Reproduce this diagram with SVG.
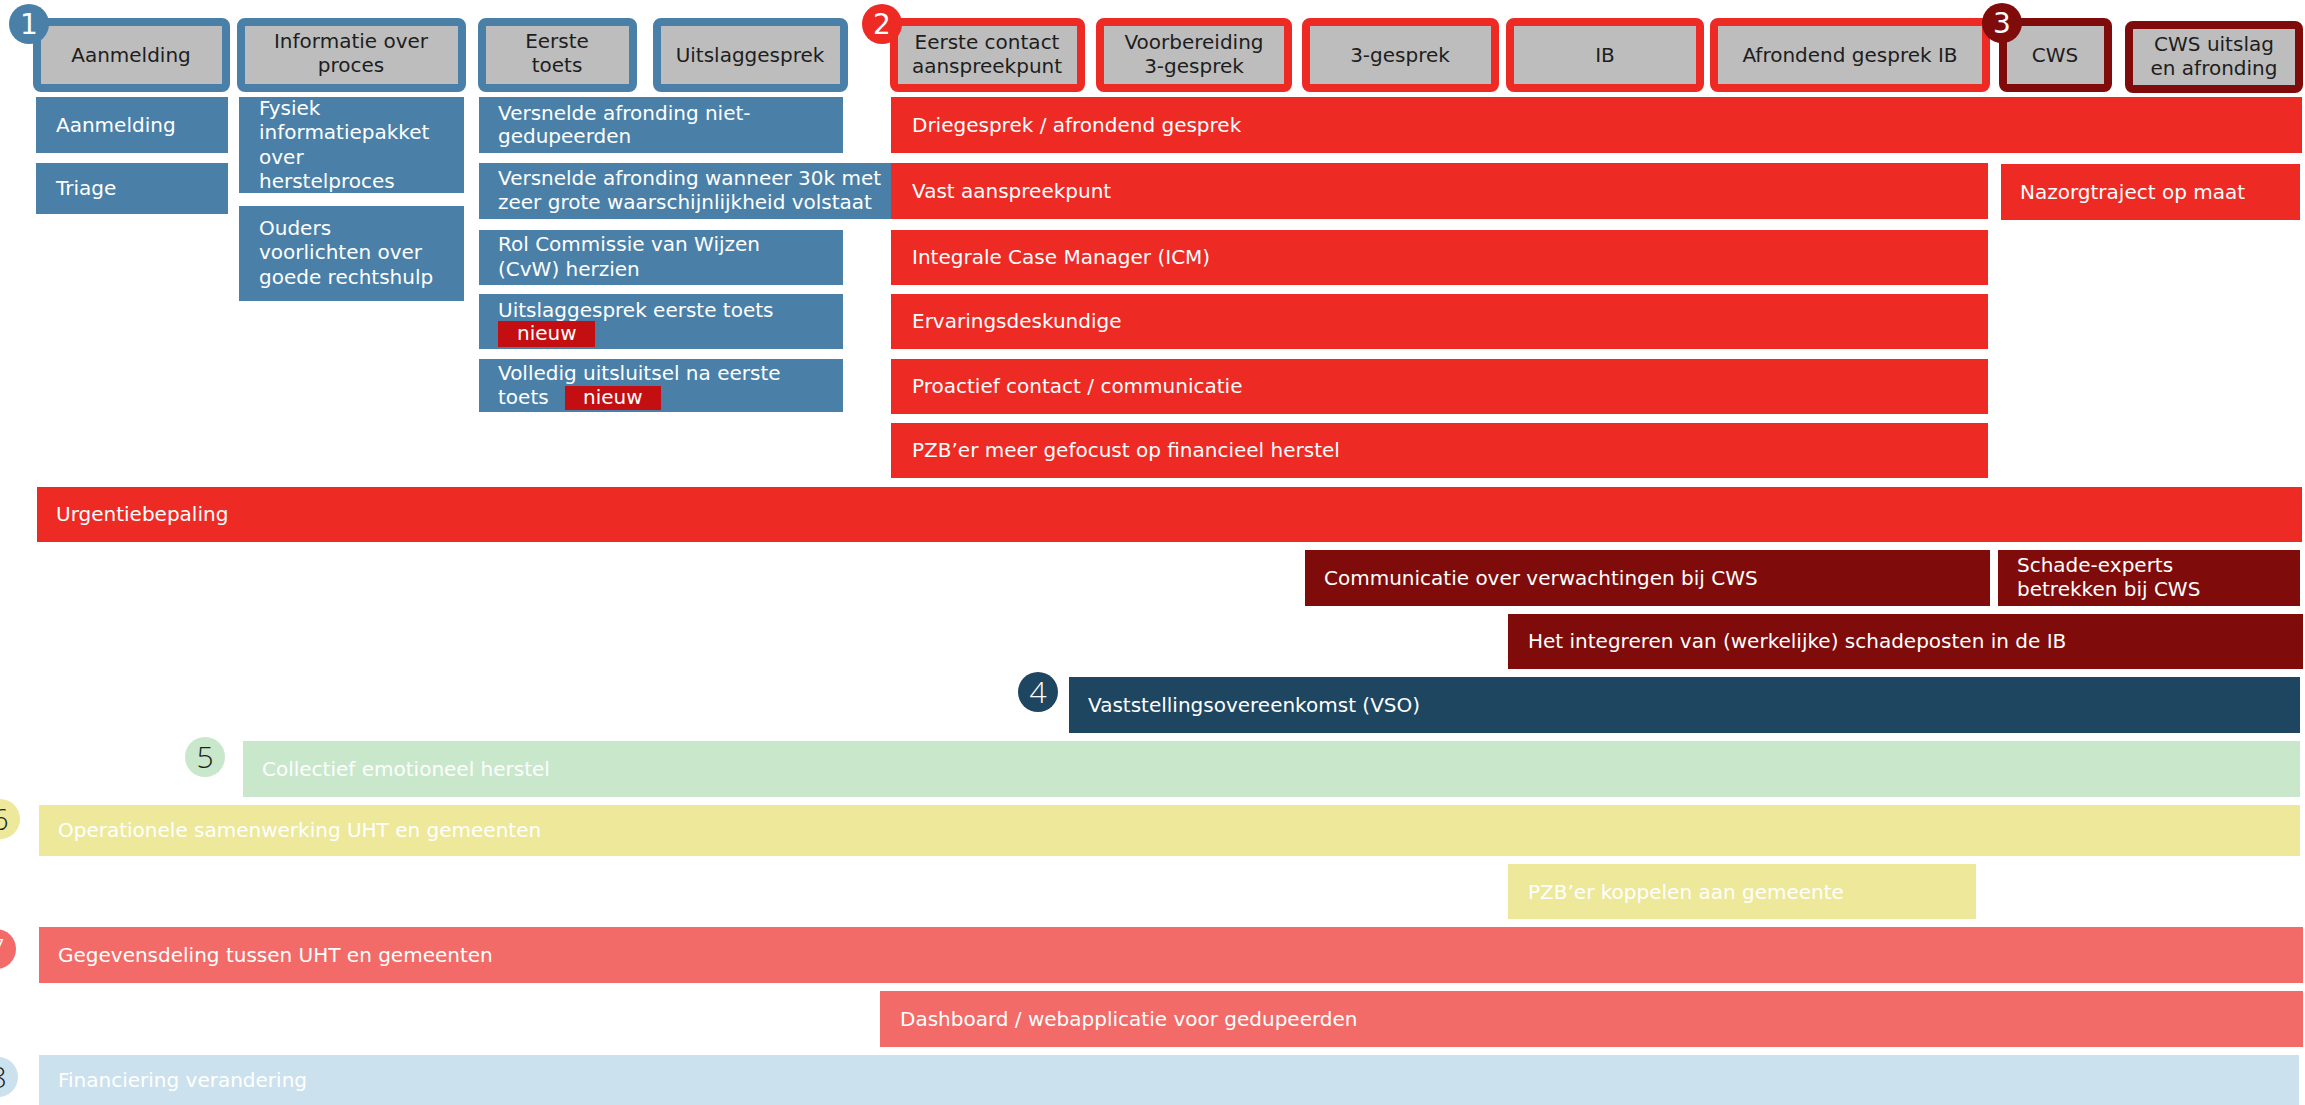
<svg xmlns="http://www.w3.org/2000/svg" width="2305" height="1105" viewBox="0 0 2305 1105">
<style>
text{font-family:"DejaVu Sans",Verdana,sans-serif;font-size:20px;}
.w{fill:#ffffff;}
.d{fill:#1e1e1e;}
.c{text-anchor:middle;}
.hb{fill:#bdbdbd;stroke:#4a80a8;stroke-width:8;}
.hr{fill:#bdbdbd;stroke:#ee2a24;stroke-width:8;}
.hd{fill:#bdbdbd;stroke:#7f0c0a;stroke-width:8;}
.blue{fill:#4a80a8;}
.red{fill:#ee2a24;}
.dred{fill:#7f0c0a;}
.navy{fill:#1f4660;}
.green{fill:#c9e7cb;}
.yel{fill:#eee89b;}
.sal{fill:#f36b68;}
.lblue{fill:#cce1ee;}
.badge{fill:#c40f12;}
.num{font-size:28px;text-anchor:middle;}
.num2{font-family:"Open Sans","DejaVu Sans",sans-serif;font-weight:300;font-size:30px;text-anchor:middle;}
</style>
<rect x="0" y="0" width="2305" height="1105" fill="#ffffff"/>
<g id="connectors"/>

<!-- Header phase 1 -->
<g id="h-aanmelding"><rect class="hb" x="37" y="22" width="189" height="66" rx="4"/><text class="d c" x="131" y="62">Aanmelding</text></g>
<g id="h-informatie"><rect class="hb" x="241" y="22" width="221" height="66" rx="4"/><text class="d c" x="351" y="48">Informatie over</text><text class="d c" x="351" y="72">proces</text></g>
<g id="h-eerstetoets"><rect class="hb" x="482" y="22" width="151" height="66" rx="4"/><text class="d c" x="557" y="48">Eerste</text><text class="d c" x="557" y="72">toets</text></g>
<g id="h-uitslaggesprek"><rect class="hb" x="657" y="22" width="187" height="66" rx="4"/><text class="d c" x="750" y="62">Uitslaggesprek</text></g>
<g id="badge-1"><circle cx="29" cy="24" r="20" fill="#4a80a8"/><text class="num w" x="29" y="34">1</text></g>

<!-- Header phase 2 -->
<g id="h-eerstecontact"><rect class="hr" x="894" y="22" width="187" height="66" rx="4"/><text class="d c" x="987" y="49">Eerste contact</text><text class="d c" x="987" y="73">aanspreekpunt</text></g>
<g id="h-voorbereiding"><rect class="hr" x="1100" y="22" width="188" height="66" rx="4"/><text class="d c" x="1194" y="49">Voorbereiding</text><text class="d c" x="1194" y="73">3-gesprek</text></g>
<g id="h-3gesprek"><rect class="hr" x="1306" y="22" width="189" height="66" rx="4"/><text class="d c" x="1400" y="62">3-gesprek</text></g>
<g id="h-ib"><rect class="hr" x="1510" y="22" width="190" height="66" rx="4"/><text class="d c" x="1605" y="62">IB</text></g>
<g id="h-afrondend"><rect class="hr" x="1714" y="22" width="272" height="66" rx="4"/><text class="d c" x="1850" y="62">Afrondend gesprek IB</text></g>
<g id="badge-2"><circle cx="882" cy="24" r="20" fill="#ee2a24"/><text class="num w" x="882" y="34">2</text></g>

<!-- Header phase 3 -->
<g id="h-cws"><rect class="hd" x="2003" y="22" width="105" height="66" rx="4"/><text class="d c" x="2055" y="62">CWS</text></g>
<g id="h-cwsuitslag"><rect class="hd" x="2129" y="25" width="170" height="64" rx="4"/><text class="d c" x="2214" y="51">CWS uitslag</text><text class="d c" x="2214" y="75">en afronding</text></g>
<g id="badge-3"><circle cx="2002" cy="23" r="20" fill="#7f0c0a"/><text class="num w" x="2002" y="33">3</text></g>

<!-- Blue body boxes -->
<g id="b-aanmelding"><rect class="blue" x="36" y="97" width="192" height="56"/><text class="w" x="56" y="132">Aanmelding</text></g>
<g id="b-triage"><rect class="blue" x="36" y="163" width="192" height="51"/><text class="w" x="56" y="195">Triage</text></g>
<g id="b-fysiek"><rect class="blue" x="239" y="97" width="225" height="96"/><text class="w" x="259" y="115">Fysiek</text><text class="w" x="259" y="139">informatiepakket</text><text class="w" x="259" y="164">over</text><text class="w" x="259" y="188">herstelproces</text></g>
<g id="b-ouders"><rect class="blue" x="239" y="206" width="225" height="95"/><text class="w" x="259" y="235">Ouders</text><text class="w" x="259" y="259">voorlichten over</text><text class="w" x="259" y="284">goede rechtshulp</text></g>
<g id="b-versnelde1"><rect class="blue" x="479" y="97" width="364" height="56"/><text class="w" x="498" y="120">Versnelde afronding niet-</text><text class="w" x="498" y="143">gedupeerden</text></g>
<g id="b-versnelde2"><rect class="blue" x="479" y="163" width="412" height="56"/><text class="w" x="498" y="185">Versnelde afronding wanneer 30k met</text><text class="w" x="498" y="209">zeer grote waarschijnlijkheid volstaat</text></g>
<g id="b-rol"><rect class="blue" x="479" y="230" width="364" height="55"/><text class="w" x="498" y="251">Rol Commissie van Wijzen</text><text class="w" x="498" y="276">(CvW) herzien</text></g>
<g id="b-uitslag"><rect class="blue" x="479" y="294" width="364" height="55"/><text class="w" x="498" y="317">Uitslaggesprek eerste toets</text><rect class="badge" x="498" y="321" width="97" height="26"/><text class="w" x="517" y="340">nieuw</text></g>
<g id="b-volledig"><rect class="blue" x="479" y="359" width="364" height="53"/><text class="w" x="498" y="380">Volledig uitsluitsel na eerste</text><text class="w" x="498" y="404">toets</text><rect class="badge" x="565" y="386" width="96" height="24"/><text class="w" x="583" y="404">nieuw</text></g>

<!-- Red body bars -->
<g id="r-driegesprek"><rect class="red" x="891" y="97" width="1411" height="56"/><text class="w" x="912" y="132">Driegesprek / afrondend gesprek</text></g>
<g id="r-vast"><rect class="red" x="891" y="163" width="1097" height="56"/><text class="w" x="912" y="198">Vast aanspreekpunt</text></g>
<g id="r-nazorg"><rect class="red" x="2001" y="164" width="299" height="56"/><text class="w" x="2020" y="199">Nazorgtraject op maat</text></g>
<g id="r-icm"><rect class="red" x="891" y="230" width="1097" height="55"/><text class="w" x="912" y="264">Integrale Case Manager (ICM)</text></g>
<g id="r-ervaring"><rect class="red" x="891" y="294" width="1097" height="55"/><text class="w" x="912" y="328">Ervaringsdeskundige</text></g>
<g id="r-proactief"><rect class="red" x="891" y="359" width="1097" height="55"/><text class="w" x="912" y="393">Proactief contact / communicatie</text></g>
<g id="r-pzb"><rect class="red" x="891" y="423" width="1097" height="55"/><text class="w" x="912" y="457">PZB’er meer gefocust op financieel herstel</text></g>
<g id="r-urgentie"><rect class="red" x="37" y="487" width="2265" height="55"/><text class="w" x="56" y="521">Urgentiebepaling</text></g>

<!-- Dark red bars -->
<g id="d-communicatie"><rect class="dred" x="1305" y="550" width="685" height="56"/><text class="w" x="1324" y="585">Communicatie over verwachtingen bij CWS</text></g>
<g id="d-schade"><rect class="dred" x="1998" y="550" width="302" height="56"/><text class="w" x="2017" y="572">Schade-experts</text><text class="w" x="2017" y="596">betrekken bij CWS</text></g>
<g id="d-integreren"><rect class="dred" x="1508" y="614" width="795" height="55"/><text class="w" x="1528" y="648">Het integreren van (werkelijke) schadeposten in de IB</text></g>

<!-- VSO -->
<g id="n-vso"><rect class="navy" x="1069" y="677" width="1231" height="56"/><text class="w" x="1088" y="712">Vaststellingsovereenkomst (VSO)</text></g>
<g id="badge-4"><circle cx="1038" cy="692" r="20" fill="#1f4660"/><text class="num2 w" x="1038" y="703">4</text></g>

<!-- Collectief -->
<g id="n-collectief"><rect class="green" x="243" y="741" width="2057" height="56"/><text class="w" x="262" y="776">Collectief emotioneel herstel</text></g>
<g id="badge-5"><circle cx="205" cy="757" r="20" fill="#c9e7cb"/><text class="num2 d" x="205" y="768">5</text></g>

<!-- Operationele -->
<g id="n-operationele"><rect class="yel" x="39" y="805" width="2261" height="51"/><text class="w" x="58" y="837">Operationele samenwerking UHT en gemeenten</text></g>
<g id="n-pzbkoppelen"><rect class="yel" x="1508" y="864" width="468" height="55"/><text class="w" x="1528" y="899">PZB’er koppelen aan gemeente</text></g>
<g id="badge-6"><circle cx="0" cy="819" r="20" fill="#eee89b"/><text class="num2 d" x="0" y="830">6</text></g>

<!-- Gegevensdeling -->
<g id="n-gegevensdeling"><rect class="sal" x="39" y="927" width="2264" height="56"/><text class="w" x="58" y="962">Gegevensdeling tussen UHT en gemeenten</text></g>
<g id="n-dashboard"><rect class="sal" x="880" y="991" width="1423" height="56"/><text class="w" x="900" y="1026">Dashboard / webapplicatie voor gedupeerden</text></g>
<g id="badge-7"><circle cx="-4" cy="949" r="20" fill="#f36b68"/><text class="num2 w" x="-4" y="960">7</text></g>

<!-- Financiering -->
<g id="n-financiering"><rect class="lblue" x="39" y="1055" width="2260" height="60"/><text class="w" x="58" y="1087">Financiering verandering</text></g>
<g id="badge-8"><circle cx="-2" cy="1077" r="20" fill="#cce1ee"/><text class="num2 d" x="-2" y="1088">8</text></g>
</svg>
